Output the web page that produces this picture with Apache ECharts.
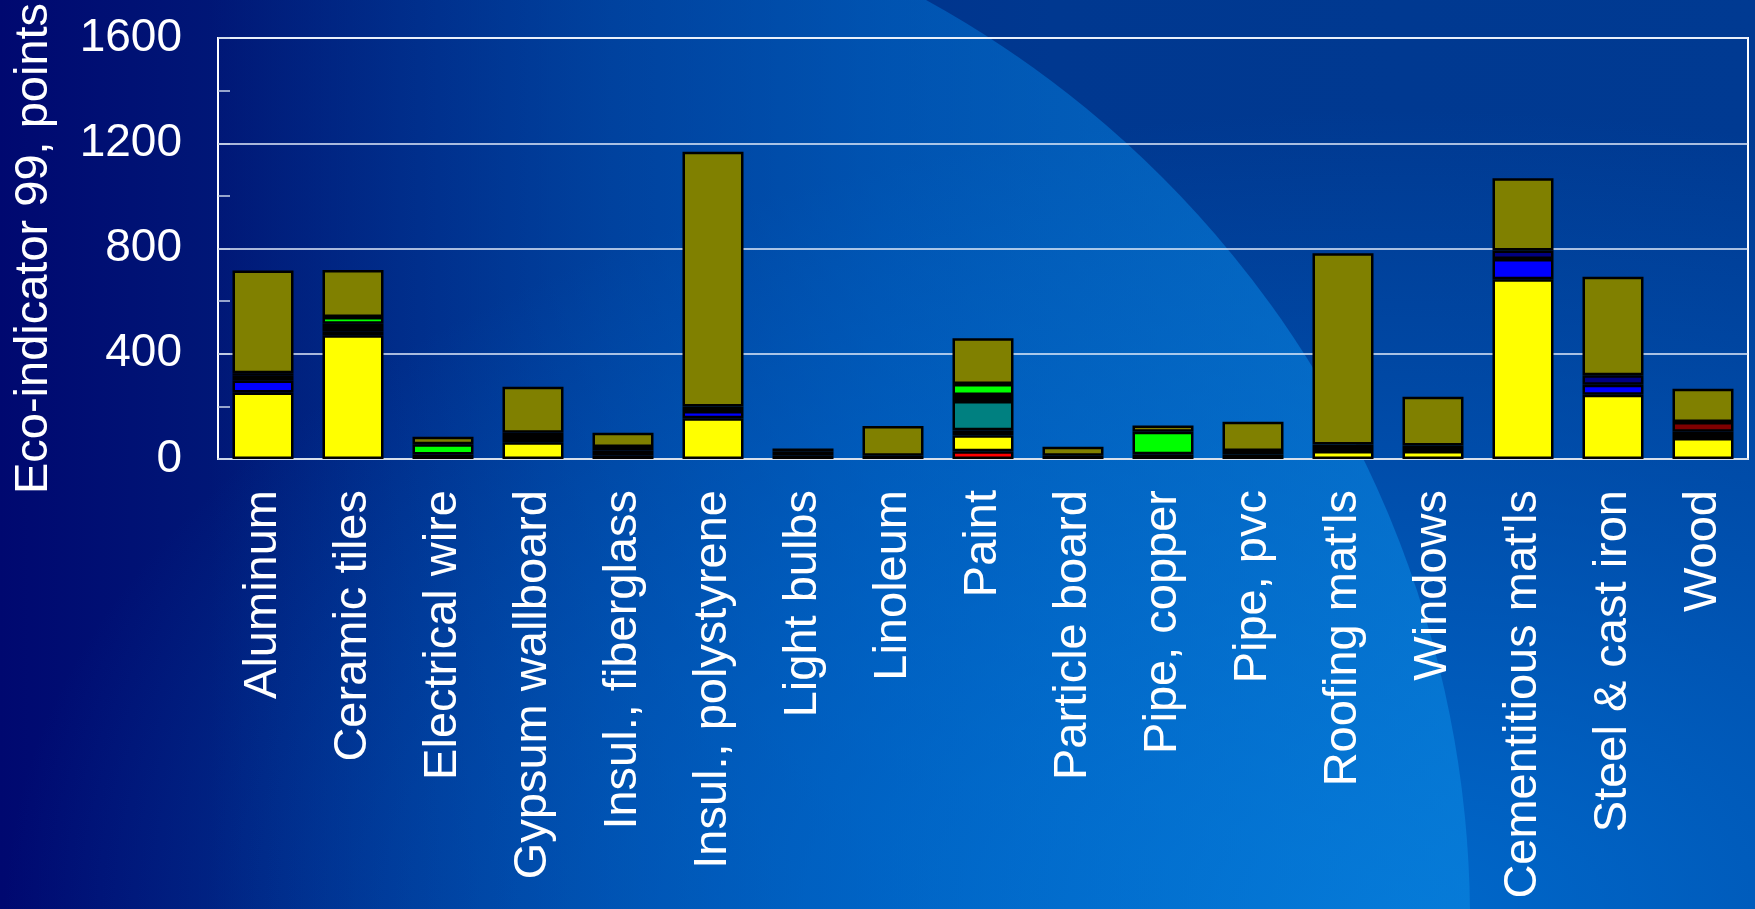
<!DOCTYPE html>
<html>
<head>
<meta charset="utf-8">
<script src="https://cdn.jsdelivr.net/npm/echarts@6/dist/echarts.min.js"></script>
<style>
  html, body { margin: 0; padding: 0; width: 1755px; height: 909px; overflow: hidden; }
  #wrap { position: relative; width: 1755px; height: 909px; overflow: hidden;
    background:
      radial-gradient(ellipse 1400px 800px at 80% 100%, rgba(0,112,212,0.85) 0%, rgba(0,102,202,0.5) 50%, rgba(0,90,190,0) 100%),
      linear-gradient(90deg, #000870 0%, #001a78 15%, #002e88 35%, #003890 60%, #003a92 100%); }
  #circle { position: absolute; left: -630px; top: -130px; width: 2100px; height: 2100px; border-radius: 50%;
    background: linear-gradient(90deg, rgba(0,120,220,0) 40%, rgba(0,120,220,0.45) 72%, rgba(10,135,225,0.62) 100%); }
  #chart { position: absolute; left: 0; top: 0; width: 1755px; height: 909px; }
</style>
</head>
<body>
<div id="wrap"><div id="circle"></div><div id="chart"></div></div>
<script>
const categories = ["Aluminum", "Ceramic tiles", "Electrical wire", "Gypsum wallboard", "Insul., fiberglass",
  "Insul., polystyrene", "Light bulbs", "Linoleum", "Paint", "Particle board", "Pipe, copper", "Pipe, pvc",
  "Roofing mat'ls", "Windows", "Cementitious mat'ls", "Steel & cast iron", "Wood"];

const yTicks = [0, 400, 800, 1200, 1600];

// stacked from bottom to top
const redVals    = [0,   0,   0,   0,  14,   0,  0,   0,  29,  0,  0,  0,   0,   0,   0,   0,   0];
const yellowVals = [253, 470, 0,  64,  17, 155,  0,   0,  61,  0,  0, 16,  30,  30, 683, 244,  80];
const blueVals   = [45,  0,   0,   0,   0,  27,  0,   0,  19,  0,  0,  0,   0,   0,  77,  38,   0];
const navyVals   = [18,  14,  0,  12,   0,  18,  0,   0,   0,  0,  0,  0,   0,   0,  32,  36,   0];
const tealVals   = [0,   14,  0,   0,   0,   0,  0,   0, 111,  0,  0,  0,   0,   0,   0,   0,   0];
const blackVals  = [10,  16, 17,  24,  15,   0, 12,  12,  23, 12, 18, 14,  25,  21,   0,   0,  24];
const greenVals  = [0,   26, 39,   0,   0,   0, 16,   0,  42,  0, 86,  0,   0,   0,   0,   0,   0];
const maroonVals = [0,   0,   0,   0,   0,   0,  0,   0,   0,  0,  0,  0,   0,   0,   0,   0,  37];
const oliveVals  = [390, 178, 29, 175, 54, 968, 12, 113, 174, 35, 23, 112, 727, 186, 275, 375, 126];

const seriesDefs = [
  { name: "Impact category 1", color: "#FF0000", data: redVals },
  { name: "Impact category 2", color: "#FFFF00", data: yellowVals },
  { name: "Impact category 3", color: "#0000FF", data: blueVals },
  { name: "Impact category 4", color: "#000080", data: navyVals },
  { name: "Impact category 5", color: "#008080", data: tealVals },
  { name: "Impact category 6", color: "#000000", data: blackVals },
  { name: "Impact category 7", color: "#00FF00", data: greenVals },
  { name: "Impact category 8", color: "#800000", data: maroonVals },
  { name: "Impact category 9", color: "#808000", data: oliveVals }
];

const FONT = "'Liberation Sans', Arial, sans-serif";
const chart = echarts.init(document.getElementById('chart'), null, { renderer: 'canvas' });

chart.setOption({
  backgroundColor: 'transparent',
  animation: false,
  grid: { left: 218, top: 38, right: 7, bottom: 450, outerBoundsMode: 'none', containLabel: false,
          show: true, borderColor: '#ffffff', borderWidth: 2, backgroundColor: 'transparent' },
  xAxis: {
    type: 'category',
    data: categories,
    axisLine: { show: true, lineStyle: { color: '#d8e0ec', width: 2 } },
    axisTick: { show: false },
    axisLabel: { interval: 0, rotate: 90, color: '#ffffff', fontFamily: FONT, fontSize: 47, margin: 31 }
  },
  yAxis: {
    type: 'value',
    min: yTicks[0], max: yTicks[yTicks.length - 1], interval: 400,
    name: 'Eco-indicator 99, points',
    nameLocation: 'middle', nameGap: 160, nameRotate: 90,
    nameTextStyle: { color: '#ffffff', fontFamily: FONT, fontSize: 47 },
    axisLine: { show: true, lineStyle: { color: '#ffffff', width: 2 } },
    axisTick: { show: true, inside: true, length: 12, lineStyle: { color: '#c8d4e8', width: 1.5 } },
    minorTick: { show: true, splitNumber: 2, length: 12, lineStyle: { color: '#c8d4e8', width: 1.5 } },
    splitLine: { show: true, lineStyle: { color: 'rgba(225,235,250,0.75)', width: 2 } },
    axisLabel: { color: '#ffffff', fontFamily: FONT, fontSize: 46, margin: 36, formatter: v => String(v) }
  },
  series: seriesDefs.map(s => ({
    name: s.name,
    type: 'bar',
    stack: 'total',
    barWidth: 61,
    data: s.data.map(v => (v === 0 ? null : v)),
    itemStyle: { color: s.color, borderColor: '#000000', borderWidth: 2.5 }
  }))
});
</script>
</body>
</html>
